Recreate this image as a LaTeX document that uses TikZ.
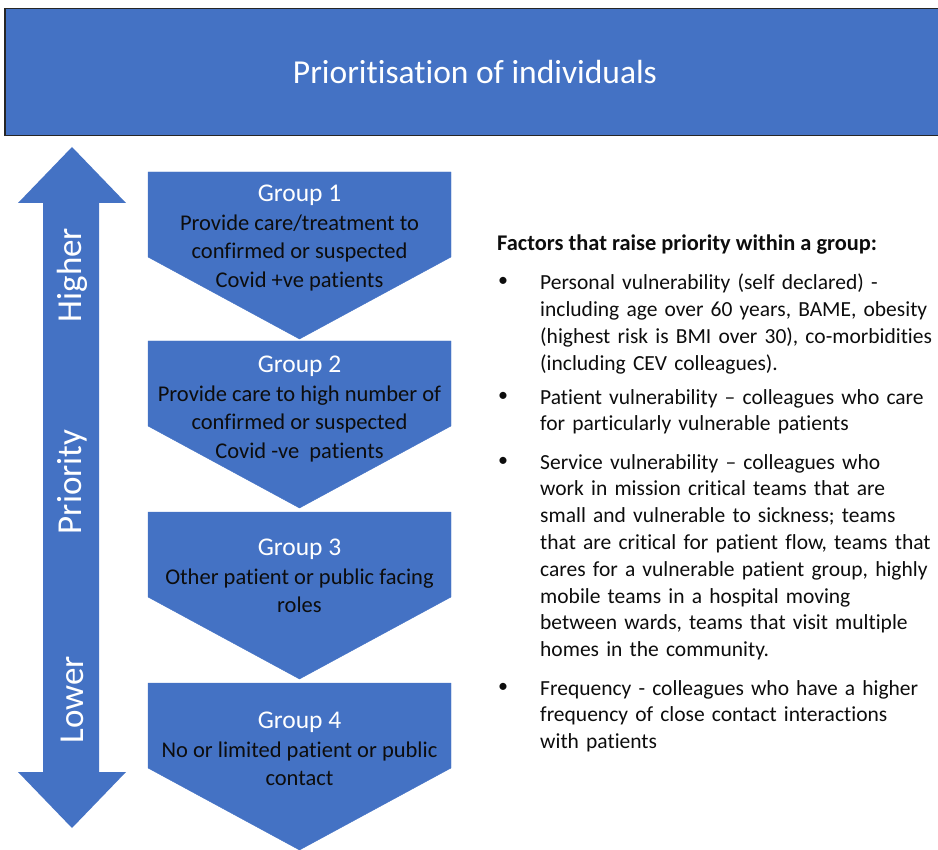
\documentclass[tikz,border=0pt]{standalone}
\usepackage{fontspec}
\setmainfont{Carlito}[Ligatures=NoCommon]
\definecolor{boxblue}{HTML}{4472C4}
\definecolor{txtdark}{HTML}{0D0D0D}
\newcommand{\grouphead}[1]{{\color{white}\fontsize{25.5}{28.5}\selectfont #1}}
\begin{document}
\begin{tikzpicture}[x=1pt,y=-1pt,
  chev/.style={fill=boxblue,draw=boxblue},
  gtext/.style={align=center,text=txtdark,font=\fontsize{22.5}{28.5}\selectfont,inner sep=0pt,anchor=north},
  side/.style={text=white,font=\fontsize{35}{40}\selectfont,rotate=90,inner sep=0pt},
  bul/.style={anchor=north west,text=txtdark,align=left,text width=420,inner sep=0pt,font=\fontsize{21.5}{26.8}\selectfont},
  dot/.style={text=txtdark,font=\fontsize{20}{24}\selectfont,inner sep=0pt}
]
\useasboundingbox (0,0) rectangle (938,850);
% banner
\node[draw=black!85,line width=1.5pt,fill=boxblue,minimum width=940,minimum height=127,anchor=north west,inner sep=0pt] (banner) at (4,8) {};
\node[text=white,font=\fontsize{33.5}{38}\selectfont] (title) at (475,72) {Prioritisation of individuals};
% double arrow
\path[fill=boxblue] (72,147) -- (126,203) -- (99,203) -- (99,772) -- (126,772) -- (72,828) -- (18,772) -- (43,772) -- (43,203) -- (18,203) -- cycle;
\node[side] (higher) at (72,275) {Higher};
\node[side] (priority) at (72,482) {Priority};
\node[side] (lower) at (72,700) {Lower};
% chevrons
\foreach \t/\n in {172/g1,341/g2,512/g3,683/g4}{
  \path[chev] (148,\t) -- (451,\t) -- (451,\t+85) -- (299.5,\t+167) -- (148,\t+85) -- cycle;
  \coordinate (\n) at (299.5,\t);
}
\node[gtext] (t1) at ([yshift=-13]g1) {\grouphead{Group 1}\\Provide care/treatment to\\confirmed or suspected\\Covid +ve patients};
\node[gtext] (t2) at ([yshift=-15]g2) {\grouphead{Group 2}\\Provide care to high number of\\confirmed or suspected\\Covid -ve\ \ patients};
\node[gtext] (t3) at ([yshift=-27]g3) {\grouphead{Group 3}\\Other patient or public facing\\roles};
\node[gtext] (t4) at ([yshift=-29]g4) {\grouphead{Group 4}\\No or limited patient or public\\contact};
% right text
\node[anchor=west,text=txtdark,inner sep=0pt,font=\fontsize{22.4}{26.8}\selectfont\bfseries] (head) at (497,245) {Factors that raise priority within a group:};
\node[bul] (b1) at (540,274) {Personal vulnerability (self declared) -\\including age over 60 years, BAME, obesity\\(highest risk is BMI over 30), co-morbidities\\(including CEV colleagues).};
\node[bul] (b2) at (540,389) {Patient vulnerability – colleagues who care\\for particularly vulnerable patients};
\node[bul] (b3) at (540,454) {Service vulnerability – colleagues who\\work in mission critical teams that are\\small and vulnerable to sickness; teams\\that are critical for patient flow, teams that\\cares for a vulnerable patient group, highly\\mobile teams in a hospital moving\\between wards, teams that visit multiple\\homes in the community.};
\node[bul] (b4) at (540,680) {Frequency - colleagues who have a higher\\frequency of close contact interactions\\with patients};
\node[dot] (d1) at (503,282) {•};
\node[dot] (d2) at (503,397) {•};
\node[dot] (d3) at (503,462) {•};
\node[dot] (d4) at (503,688) {•};
\end{tikzpicture}
\end{document}
